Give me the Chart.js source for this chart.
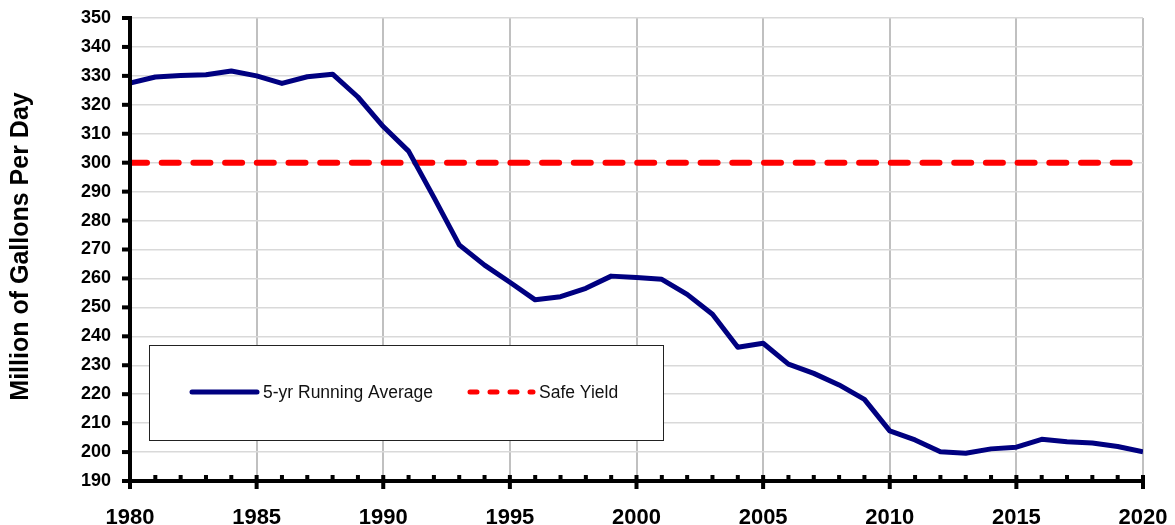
<!DOCTYPE html>
<html>
<head>
<meta charset="utf-8">
<script src="https://cdn.jsdelivr.net/npm/chart.js"></script>
<style>
  body { margin: 0; background: #fff; }
  #wrap { width: 1175px; height: 525px; }
</style>
</head>
<body>
<div id="wrap"><canvas id="lineChart"></canvas></div>
<script>
// du lieu doc tu hinh
const years = [1980, 1981, 1982, 1983, 1984, 1985, 1986, 1987, 1988, 1989,
  1990, 1991, 1992, 1993, 1994, 1995, 1996, 1997, 1998, 1999,
  2000, 2001, 2002, 2003, 2004, 2005, 2006, 2007, 2008, 2009,
  2010, 2011, 2012, 2013, 2014, 2015, 2016, 2017, 2018, 2019, 2020];
const runningAvg = [327.5, 329.6, 330.1, 330.4, 331.7, 330.0, 327.4, 329.7, 330.6, 322.7,
  312.5, 304.0, 288.0, 271.6, 264.6, 258.7, 252.6, 253.7, 256.6, 260.8,
  260.3, 259.7, 254.5, 247.6, 236.2, 237.6, 230.4, 227.2, 223.2, 218.2,
  207.3, 204.2, 200.1, 199.6, 201.1, 201.7, 204.4, 203.6, 203.1, 201.9, 200.1];
const safeYieldYears = [1980, 2020];
const safeYield = [300, 300];
const yTitle = "Million of Gallons Per Day";
const labelAvg = "5-yr Running Average";
const labelSafe = "Safe Yield";

const FONT = "'Liberation Sans', Arial, sans-serif";

// ve truc, vach chia, tieu de truc y va chu thich
const extras = {
  id: "extras",
  afterDraw(chart) {
    const ctx = chart.ctx;
    const x = chart.scales.x;
    const y = chart.scales.y;
    const area = chart.chartArea;
    ctx.save();

    // truc
    ctx.strokeStyle = "#000";
    ctx.lineWidth = 4;
    ctx.beginPath();
    ctx.moveTo(area.left, area.top - 2);
    ctx.lineTo(area.left, area.bottom + 2);
    ctx.moveTo(area.left - 2, area.bottom);
    ctx.lineTo(area.right + 2, area.bottom);
    ctx.stroke();

    // vach chia truc y
    ctx.fillStyle = "#000";
    for (let v = 190; v <= 350; v += 10) {
      const py = y.getPixelForValue(v);
      ctx.fillRect(area.left - 8, py - 2, 6, 4);
    }
    // vach chia truc x
    for (let yr = 1980; yr <= 2020; yr++) {
      const px = x.getPixelForValue(yr);
      if (yr % 5 === 0) {
        ctx.fillRect(px - 2, area.bottom - 6, 4, 14);
      } else {
        ctx.fillRect(px - 2, area.bottom - 6, 4, 6);
      }
    }

    // tieu de truc y
    ctx.translate(21, (area.top + area.bottom) / 2 - 3);
    ctx.rotate(-Math.PI / 2);
    ctx.font = "bold 25px " + FONT;
    ctx.textAlign = "center";
    ctx.textBaseline = "middle";
    ctx.fillText(yTitle, 0, 0);
    ctx.setTransform(1, 0, 0, 1, 0, 0);

    // chu thich
    const bx = 149, by = 345, bw = 514, bh = 95;
    ctx.fillStyle = "#fff";
    ctx.fillRect(bx, by, bw, bh);
    ctx.strokeStyle = "#222";
    ctx.lineWidth = 1;
    ctx.strokeRect(bx + 0.5, by + 0.5, bw, bh);

    const ly = 392;
    const ds = chart.data.datasets;
    ctx.lineCap = "round";
    ctx.strokeStyle = ds[0].borderColor;
    ctx.lineWidth = 5;
    ctx.beginPath();
    ctx.moveTo(192, ly);
    ctx.lineTo(257, ly);
    ctx.stroke();

    ctx.strokeStyle = ds[1].borderColor;
    ctx.lineWidth = 5;
    ctx.setLineDash([7, 13]);
    ctx.beginPath();
    ctx.moveTo(470, ly);
    ctx.lineTo(533, ly);
    ctx.stroke();
    ctx.setLineDash([]);

    ctx.fillStyle = "#111";
    ctx.font = "17.5px " + FONT;
    ctx.textAlign = "left";
    ctx.textBaseline = "middle";
    ctx.fillText(labelAvg, 263, ly + 1);
    ctx.fillText(labelSafe, 539, ly + 1);
    ctx.restore();
  },
};

new Chart(document.getElementById("lineChart"), {
  type: "line",
  data: {
    datasets: [
      {
        label: labelAvg,
        data: years.map((yr, i) => ({x: yr, y: runningAvg[i]})),
        borderColor: "#000080",
        borderWidth: 5,
        pointRadius: 0,
        tension: 0,
        borderJoinStyle: "round",
        order: 1,
      },
      {
        label: labelSafe,
        data: safeYieldYears.map((yr, i) => ({x: yr, y: safeYield[i]})),
        borderColor: "#ff0000",
        borderWidth: 6,
        borderDash: [17, 14.7],
        borderCapStyle: "round",
        pointRadius: 0,
        order: 2,
      },
    ],
  },
  plugins: [extras],
  options: {
    responsive: true,
    maintainAspectRatio: false,
    animation: false,
    layout: {padding: {top: 18, right: 32, left: 0, bottom: 0}},
    plugins: {legend: {display: false}, tooltip: {enabled: false}},
    scales: {
      x: {
        type: "linear",
        min: 1980,
        max: 2020,
        afterFit: (s) => {
          s.height = 44;
          s.paddingLeft = 0;
          s.paddingRight = 0;
        },
        ticks: {
          stepSize: 5,
          padding: 24,
          color: "#000",
          font: {family: FONT, size: 22, weight: "bold"},
          callback: (v) => String(v),
          maxRotation: 0,
        },
        grid: {color: "#c0c0c0", lineWidth: 2, drawTicks: false},
        border: {display: false},
      },
      y: {
        min: 190,
        max: 350,
        afterFit: (s) => {
          s.width = 130;
          s.paddingTop = 0;
          s.paddingBottom = 0;
        },
        ticks: {
          stepSize: 10,
          padding: 19,
          color: "#000",
          font: {family: FONT, size: 18, weight: "bold"},
        },
        grid: {color: "#d9d9d9", lineWidth: 1.5, drawTicks: false},
        border: {display: false},
      },
    },
  },
});
</script>
</body>
</html>
